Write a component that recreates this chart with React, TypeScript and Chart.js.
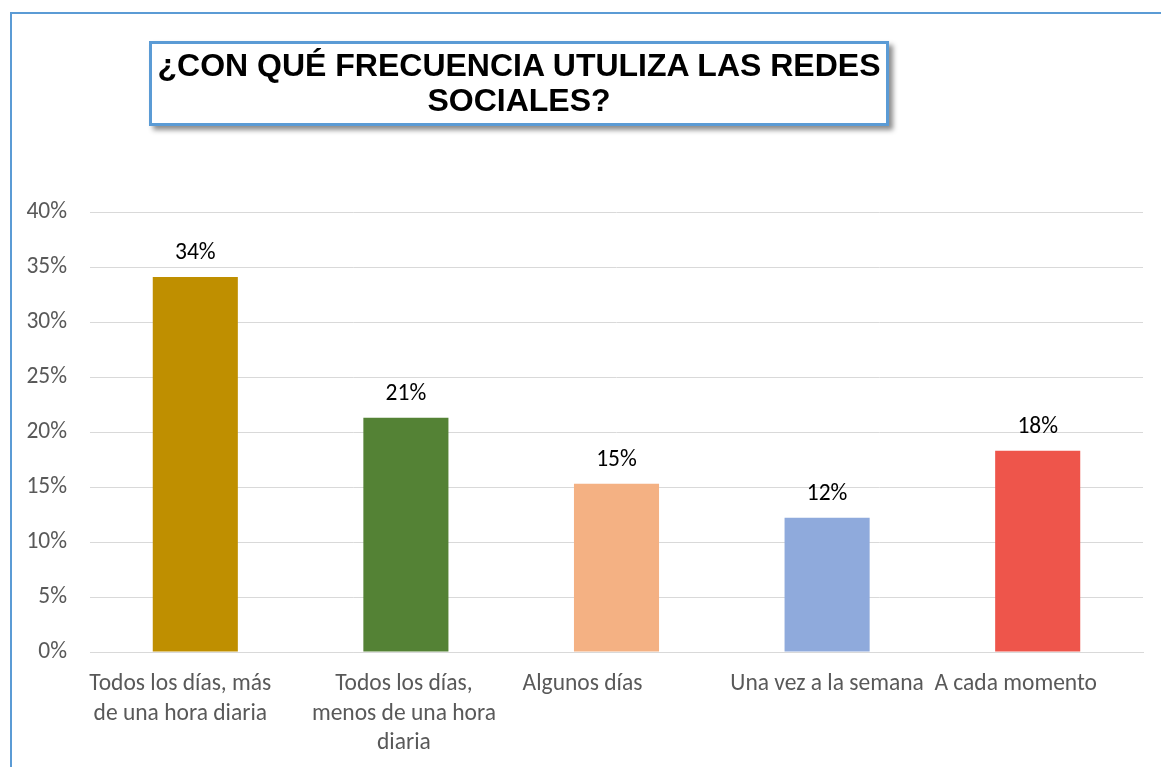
import React, { useEffect, useRef } from "react";
import { Chart, registerables } from "chart.js";

Chart.register(...registerables);

const categories: string[][] = [
  ["Todos los días, más", "de una hora diaria"],
  ["Todos los días,", "menos de una hora", "diaria"],
  ["Algunos días"],
  ["Una vez a la semana"],
  ["A cada momento"],
];
const values: number[] = [34.1, 21.3, 15.3, 12.2, 18.3];
const valueLabels: string[] = ["34%", "21%", "15%", "12%", "18%"];
const barColors: string[] = ["#BF8F00", "#548235", "#F4B183", "#8FAADC", "#EE554B"];
const yTicks: number[] = [0, 5, 10, 15, 20, 25, 30, 35, 40];
const titleLines: string[] = ["¿CON QUÉ FRECUENCIA UTULIZA LAS REDES", "SOCIALES?"];

// horizontal nudges of the category labels (Excel-style label placement)
const labelShift: number[] = [-15, -2, -34, 0, -22];

const FONT = "Carlito, Lato, 'Open Sans', sans-serif";
const SIZE = 23.5;

const labelPlugin = {
  id: "valueLabels",
  afterDatasetsDraw(chart: any) {
    const ctx = chart.ctx;
    const meta = chart.getDatasetMeta(0);
    ctx.save();
    ctx.fillStyle = "#000000";
    ctx.font = `${SIZE}px ${FONT}`;
    ctx.textAlign = "center";
    ctx.textBaseline = "alphabetic";
    meta.data.forEach((bar: any, i: number) => {
      ctx.fillText(valueLabels[i], bar.x, bar.y - 18);
    });
    ctx.restore();
  },
};

const shiftPlugin = {
  id: "shiftXLabels",
  beforeDraw(chart: any) {
    const scale = chart.scales.x;
    const items = scale.getLabelItems(chart.chartArea);
    items.forEach((item: any, i: number) => {
      if (!item._shifted) {
        item.options.translation[0] += labelShift[i] || 0;
        item._shifted = true;
      }
    });
  },
};

export default function App() {
  const canvasRef = useRef<HTMLCanvasElement | null>(null);

  useEffect(() => {
    document.body.style.margin = "0";
    const chart = new Chart(canvasRef.current as HTMLCanvasElement, {
      type: "bar",
      data: {
        labels: categories,
        datasets: [
          {
            data: values,
            backgroundColor: barColors,
            barPercentage: 0.404,
            categoryPercentage: 1,
          },
        ],
      },
      options: {
        responsive: false,
        animation: false,
        events: [],
        layout: { padding: { left: 0, top: 212, right: 18, bottom: 0 } },
        plugins: { legend: { display: false }, tooltip: { enabled: false }, title: { display: false } },
        scales: {
          x: {
            grid: { display: false, drawTicks: false },
            border: { display: true, color: "#D9D9D9", width: 1 },
            ticks: {
              color: "#595959",
              font: { family: FONT, size: SIZE, lineHeight: 1.24 },
              padding: 18,
              maxRotation: 0,
              autoSkip: false,
            },
            afterFit: (scale: any) => {
              scale.height = 767 - 652;
            },
          },
          y: {
            min: 0,
            max: 40,
            afterBuildTicks: (scale: any) => {
              scale.ticks = yTicks.map((v) => ({ value: v }));
            },
            grid: { color: "#D9D9D9", lineWidth: 1, drawTicks: false },
            border: { display: false },
            ticks: {
              color: "#595959",
              font: { family: FONT, size: SIZE },
              padding: 23,
              callback: (v: any) => `${v}%`,
            },
            afterFit: (scale: any) => {
              scale.width = 90;
            },
          },
        },
      },
      plugins: [labelPlugin, shiftPlugin],
    });
    return () => chart.destroy();
  }, []);

  return (
    <div style={{ position: "fixed", left: 0, top: 0, width: 1161, height: 767, overflow: "hidden", background: "#fff" }}>
      <div
        style={{
          position: "absolute",
          left: 10,
          top: 12,
          width: 1200,
          height: 800,
          border: "2px solid #5B9BD5",
          boxSizing: "border-box",
        }}
      />
      <canvas ref={canvasRef} width={1161} height={767} style={{ position: "absolute", left: 0, top: 0 }} />
      <div
        style={{
          position: "absolute",
          left: 149,
          top: 41,
          width: 740,
          height: 85,
          border: "3px solid #5B9BD5",
          boxSizing: "border-box",
          background: "#fff",
          boxShadow: "4px 4px 5px rgba(0,0,0,0.45)",
          fontFamily: "'Liberation Sans', Arial, sans-serif",
          fontWeight: "bold",
          fontSize: 32,
          lineHeight: "35px",
          textAlign: "center",
          whiteSpace: "nowrap",
          paddingTop: 4,
          color: "#000",
        }}
      >
        {titleLines[0]}
        <br />
        {titleLines[1]}
      </div>
    </div>
  );
}
